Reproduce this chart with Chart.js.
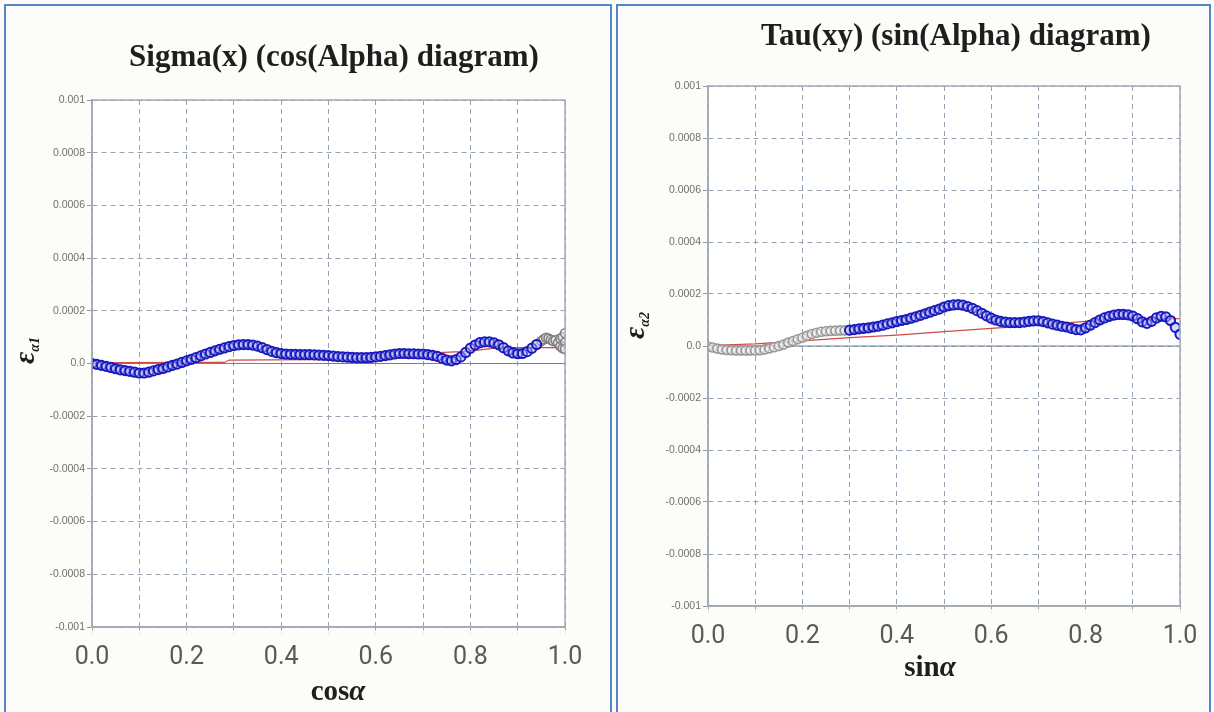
<!DOCTYPE html>
<html>
<head>
<meta charset="utf-8">
<script src="https://cdn.jsdelivr.net/npm/chart.js@4.4.1/dist/chart.umd.min.js"></script>
<style>
  body { margin: 0; width: 1214px; height: 712px; background: #fcfcf9; position: relative; overflow: hidden; }
  .frame { position: absolute; top: 4px; height: 712px; border: 2px solid #5584c8; border-bottom: none; box-sizing: border-box; }
  canvas { position: absolute; top: 0; }
</style>
</head>
<body>
<div class="frame" style="left:4px; width:608px"></div>
<div class="frame" style="left:616px; width:595px"></div>
<canvas id="sigmaChart" width="612" height="712" style="left:0"></canvas>
<canvas id="tauChart" width="602" height="712" style="left:612px"></canvas>
<script>
// strain values are in units of 1e-4
const UNIT = 1e-4

// Sigma(x) against cos(alpha)
const sigmaCos = [0.00,0.01,0.02,0.03,0.04,0.05,0.06,0.07,0.08,0.09,
  0.10,0.11,0.12,0.13,0.14,0.15,0.16,0.17,0.18,0.19,
  0.20,0.21,0.22,0.23,0.24,0.25,0.26,0.27,0.28,0.29,
  0.30,0.31,0.32,0.33,0.34,0.35,0.36,0.37,0.38,0.39,
  0.40,0.41,0.42,0.43,0.44,0.45,0.46,0.47,0.48,0.49,
  0.50,0.51,0.52,0.53,0.54,0.55,0.56,0.57,0.58,0.59,
  0.60,0.61,0.62,0.63,0.64,0.65,0.66,0.67,0.68,0.69,
  0.70,0.71,0.72,0.73,0.74,0.75,0.76,0.77,0.78,0.79,
  0.80,0.81,0.82,0.83,0.84,0.85,0.86,0.87,0.88,0.89,
  0.90,0.91,0.92,0.93,0.94]
const sigmaBlue = [0.0,-0.03,-0.07,-0.11,-0.15,-0.2,-0.24,-0.27,-0.3,-0.33,
  -0.36,-0.36,-0.33,-0.28,-0.23,-0.19,-0.13,-0.07,-0.02,0.04,
  0.1,0.16,0.22,0.29,0.36,0.42,0.48,0.54,0.59,0.64,
  0.68,0.71,0.72,0.72,0.7,0.66,0.6,0.53,0.46,0.41,
  0.38,0.36,0.35,0.35,0.34,0.34,0.34,0.33,0.32,0.31,
  0.3,0.28,0.26,0.25,0.24,0.23,0.22,0.22,0.22,0.23,
  0.25,0.27,0.3,0.33,0.36,0.38,0.38,0.37,0.37,0.36,
  0.36,0.34,0.31,0.27,0.2,0.13,0.1,0.15,0.25,0.42,
  0.58,0.7,0.79,0.82,0.82,0.78,0.71,0.6,0.48,0.4,
  0.37,0.38,0.45,0.58,0.72]
const sigmaGrayCos = [0.94,0.95,0.955,0.96,0.965,0.97,0.975,0.98,0.985,0.99,0.99,0.995,0.995,1.0,1.0,1.0]
const sigmaGray = [0.72,0.85,0.92,0.98,0.95,0.9,0.85,0.88,0.78,0.65,0.95,0.58,1.0,1.15,0.8,0.55]
const sigmaFitCos = [0.03,0.28,0.29,0.55,0.62,0.72,0.78,0.82,0.86,1.0]
const sigmaFit = [0.03,0.04,0.13,0.16,0.3,0.4,0.45,0.52,0.6,0.6]

// Tau(xy) against sin(alpha)
const tauGraySin = [0.00,0.01,0.02,0.03,0.04,0.05,0.06,0.07,0.08,0.09,
  0.10,0.11,0.12,0.13,0.14,0.15,0.16,0.17,0.18,0.19,
  0.20,0.21,0.22,0.23,0.24,0.25,0.26,0.27,0.28,0.29,
  0.30]
const tauGray = [-0.02,-0.06,-0.1,-0.13,-0.15,-0.16,-0.17,-0.17,-0.17,-0.17,
  -0.17,-0.16,-0.13,-0.09,-0.05,0.0,0.06,0.13,0.19,0.26,
  0.32,0.39,0.46,0.51,0.55,0.57,0.58,0.59,0.6,0.6,
  0.61]
const tauSin = [0.30,0.31,0.32,0.33,0.34,0.35,0.36,0.37,0.38,0.39,
  0.40,0.41,0.42,0.43,0.44,0.45,0.46,0.47,0.48,0.49,
  0.50,0.51,0.52,0.53,0.54,0.55,0.56,0.57,0.58,0.59,
  0.60,0.61,0.62,0.63,0.64,0.65,0.66,0.67,0.68,0.69,
  0.70,0.71,0.72,0.73,0.74,0.75,0.76,0.77,0.78,0.79,
  0.80,0.81,0.82,0.83,0.84,0.85,0.86,0.87,0.88,0.89,
  0.90,0.91,0.92,0.93,0.94,0.95,0.96,0.97,0.98,0.99,
  1.00]
const tauBlue = [0.61,0.63,0.66,0.68,0.7,0.73,0.76,0.8,0.85,0.89,
  0.94,0.98,1.02,1.07,1.12,1.18,1.24,1.3,1.36,1.42,
  1.5,1.55,1.58,1.59,1.57,1.52,1.45,1.36,1.26,1.16,
  1.07,1.0,0.95,0.92,0.9,0.9,0.9,0.92,0.95,0.97,
  0.97,0.94,0.89,0.84,0.8,0.76,0.73,0.68,0.63,0.62,
  0.7,0.8,0.9,1.0,1.08,1.14,1.19,1.22,1.22,1.2,
  1.15,1.05,0.93,0.87,0.95,1.08,1.14,1.12,0.98,0.72,
  0.45]
const tauFitSin = [0.0,0.1,0.2,0.3,0.4,0.5,0.6,0.7,0.8,0.85,1.0]
const tauFit = [0.02,0.08,0.2,0.32,0.42,0.55,0.68,0.8,0.95,1.02,1.05]

const zeroX = [0, 1]
const zeroY = [0, 0]

function toPoints(xs, ys) {
  return xs.map((x, i) => ({ x: x, y: ys[i] * UNIT }))
}

function yLabel(v) {
  const r = Math.round(v * 1e4) / 1e4
  return r === 0 ? '0.0' : String(r)
}

// white plot area, full frame round it, and the texts with mixed styles
const panelText = {
  id: 'panelText',
  beforeDraw(chart) {
    const { ctx, chartArea: a } = chart
    ctx.save()
    ctx.fillStyle = '#ffffff'
    ctx.fillRect(a.left, a.top, a.width, a.height)
    ctx.restore()
  },
  afterDraw(chart, args, opts) {
    const { ctx, chartArea: a } = chart
    ctx.save()
    ctx.strokeStyle = '#a3abb4'
    ctx.lineWidth = 1.5
    ctx.strokeRect(a.left, a.top, a.width, a.height)

    ctx.fillStyle = '#1e1e1e'
    ctx.textAlign = 'center'
    ctx.textBaseline = 'middle'
    ctx.font = 'bold 31px "Liberation Serif"'
    ctx.fillText(opts.title, opts.titleX, opts.titleY)

    // x caption: "cos" / "sin" upright, alpha italic
    ctx.font = 'bold 29px "Liberation Serif"'
    const nameW = ctx.measureText(opts.xName).width
    ctx.font = 'bold italic 29px "Liberation Serif"'
    const alphaW = ctx.measureText('α').width
    let cx = opts.xCapX - (nameW + alphaW) / 2
    ctx.textAlign = 'left'
    ctx.font = 'bold 29px "Liberation Serif"'
    ctx.fillText(opts.xName, cx, opts.xCapY)
    ctx.font = 'bold italic 29px "Liberation Serif"'
    ctx.fillText('α', cx + nameW, opts.xCapY)

    // rotated epsilon with subscript
    ctx.translate(opts.epsX, opts.epsY)
    ctx.rotate(-Math.PI / 2)
    ctx.font = 'bold italic 30px "Liberation Serif"'
    const epsW = ctx.measureText('ε').width
    ctx.textAlign = 'left'
    ctx.textBaseline = 'alphabetic'
    ctx.fillText('ε', -14, 8)
    ctx.font = 'bold italic 14px "Liberation Serif"'
    ctx.fillText(opts.epsSub, -14 + epsW, 13)
    ctx.restore()
  }
}

function makeChart(id, cfg) {
  return new Chart(document.getElementById(id), {
    type: 'scatter',
    data: {
      datasets: [
        {
          type: 'line', data: toPoints(zeroX, zeroY), borderColor: '#6f8094',
          borderWidth: 1, pointRadius: 0, order: 4
        },
        {
          type: 'line', data: cfg.fit, borderColor: '#d24a44',
          borderWidth: 1.2, pointRadius: 0, order: 3
        },
        {
          data: cfg.gray, pointRadius: 4.5, borderWidth: 1.6,
          borderColor: cfg.grayColor, backgroundColor: 'rgba(238,238,238,0.6)', order: 2
        },
        {
          data: cfg.blue, pointRadius: 4.6, borderWidth: 2,
          borderColor: '#1818bc', backgroundColor: 'rgba(170,178,245,0.5)', order: 1
        }
      ]
    },
    options: {
      responsive: false,
      animation: false,
      layout: { padding: { top: cfg.top, right: cfg.right, left: 0, bottom: 0 } },
      plugins: {
        legend: { display: false },
        tooltip: { enabled: false },
        panelText: cfg.text
      },
      scales: {
        x: {
          type: 'linear', min: 0, max: 1,
          afterFit: (s) => { s.height = cfg.xAxisH },
          ticks: {
            stepSize: 0.1, autoSkip: false, maxRotation: 0, padding: 9,
            color: '#595959', font: { family: 'Roboto', size: 25 },
            callback: (v) => Math.round(v * 10) % 2 === 0 ? v.toFixed(1) : ''
          },
          grid: { color: '#97a3b2', lineWidth: 1, tickLength: 7, tickColor: '#97a3b2', tickBorderDash: [3, 3] },
          border: { color: '#a3abb4', width: 1.5, dash: [5, 4] }
        },
        y: {
          min: -0.001, max: 0.001,
          afterFit: (s) => { s.width = cfg.yAxisW },
          ticks: {
            stepSize: 0.0002, padding: 2,
            color: '#707070', font: { family: 'Liberation Sans', size: 10.5 },
            callback: yLabel
          },
          grid: { color: '#97a3b2', lineWidth: 1, tickLength: 5, tickColor: '#8d98a6' },
          border: { color: '#a3abb4', width: 1.5, dash: [5, 4] }
        }
      }
    },
    plugins: [panelText]
  })
}

makeChart('sigmaChart', {
  blue: toPoints(sigmaCos, sigmaBlue),
  gray: toPoints(sigmaGrayCos, sigmaGray),
  fit: toPoints(sigmaFitCos, sigmaFit),
  grayColor: '#7e7e7e',
  top: 100, right: 47, xAxisH: 85, yAxisW: 92,
  text: { title: 'Sigma(x) (cos(Alpha) diagram)', titleX: 334, titleY: 58,
    xName: 'cos', xCapX: 338, xCapY: 693, epsX: 26, epsY: 350, epsSub: 'α1' }
})

makeChart('tauChart', {
  blue: toPoints(tauSin, tauBlue),
  gray: toPoints(tauGraySin, tauGray),
  fit: toPoints(tauFitSin, tauFit),
  grayColor: '#979797',
  top: 86, right: 34, xAxisH: 106, yAxisW: 96,
  text: { title: 'Tau(xy) (sin(Alpha) diagram)', titleX: 344, titleY: 37,
    xName: 'sin', xCapX: 318, xCapY: 669, epsX: 24, epsY: 325, epsSub: 'α2' }
})
</script>
</body>
</html>
